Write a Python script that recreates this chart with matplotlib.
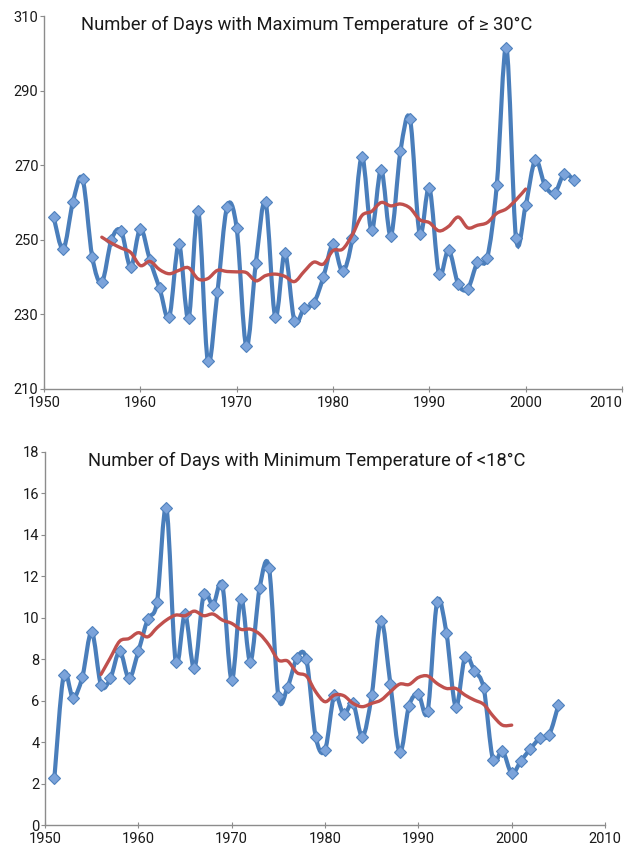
import numpy as np
import matplotlib
matplotlib.use("Agg")
import matplotlib.pyplot as plt
from matplotlib.path import Path
from matplotlib.patches import PathPatch

plt.rcParams["font.family"] = ["Roboto", "DejaVu Sans"]

# ---- data ----
years = list(range(1951, 2006))
avg_years = list(range(1956, 2001))

tmax_days = [
    256.1, 247.5, 260.1, 266.3, 245.5, 238.6, 250.0, 252.4, 242.7, 253.0,
    244.5, 237.0, 229.3, 248.8, 228.9, 257.8, 217.6, 235.9, 258.8, 253.1,
    221.4, 243.9, 260.1, 229.3, 246.4, 228.2, 231.7, 233.0, 240.0, 248.8,
    241.5, 250.4, 272.3, 252.5, 268.8, 251.1, 273.7, 282.3, 251.5, 264.0,
    240.8, 247.3, 238.1, 236.9, 244.0, 245.1, 264.6, 301.5, 250.4, 259.2,
    271.4, 264.6, 262.5, 267.7, 266.0,
]
tmax_avg = [
    250.7, 249.1, 247.8, 246.6, 243.1, 244.2, 242.0, 240.9, 241.8, 242.5,
    239.5, 239.6, 241.8, 241.5, 241.4, 241.2, 239.0, 240.4, 240.8, 240.2,
    238.8, 241.5, 244.0, 243.5, 247.1, 247.5, 251.3, 256.5, 257.6, 260.0,
    259.1, 259.6, 258.5, 255.4, 254.6, 252.4, 253.6, 256.1, 253.2, 253.9,
    254.6, 257.1, 258.3, 260.7, 263.6,
]

tmin_days = [
    2.25, 7.23, 6.14, 7.15, 9.32, 6.75, 7.07, 8.39, 7.07, 8.39,
    9.92, 10.77, 15.31, 7.88, 10.16, 7.56, 11.13, 10.61, 11.58, 6.99,
    10.93, 7.88, 11.46, 12.41, 6.22, 6.67, 8.07, 7.99, 4.26, 3.62,
    6.27, 5.34, 5.87, 4.26, 6.27, 9.86, 6.80, 3.50, 5.76, 6.30,
    5.51, 10.74, 9.28, 5.71, 8.12, 7.44, 6.59, 3.14, 3.59, 2.49,
    3.10, 3.67, 4.18, 4.34, 5.79,
]
tmin_avg = [
    7.27, 8.07, 8.87, 9.00, 9.28, 9.08, 9.52, 9.89, 10.13, 10.10,
    10.32, 10.10, 10.18, 9.89, 9.73, 9.44, 9.45, 9.21, 8.68, 7.96,
    7.91, 7.35, 7.19, 6.43, 5.95, 6.27, 6.24, 5.87, 5.71, 5.87,
    6.03, 6.43, 6.80, 6.78, 7.12, 7.19, 6.83, 6.59, 6.59, 6.27,
    6.03, 5.82, 5.26, 4.82, 4.82,
]

BLUE = "#4A7EBB"
BLUE_FILL = "#7BA3DA"
RED = "#C0504D"
AXIS = "#8C8C8C"


def smooth_path(x, y):
    # excel-style smoothed line: catmull-rom as cubic bezier segments
    x = np.asarray(x, float)
    y = np.asarray(y, float)
    n = len(x)
    verts = [(x[0], y[0])]
    codes = [Path.MOVETO]
    for i in range(n - 1):
        a = i - 1 if i > 0 else i
        d = i + 2 if i + 2 < n else i + 1
        c1 = (x[i] + (x[i + 1] - x[a]) / 6, y[i] + (y[i + 1] - y[a]) / 6)
        c2 = (x[i + 1] - (x[d] - x[i]) / 6, y[i + 1] - (y[d] - y[i]) / 6)
        verts += [c1, c2, (x[i + 1], y[i + 1])]
        codes += [Path.CURVE4] * 3
    return Path(verts, codes)


def draw_panel(ax, vals, avg, ylim, ystep):
    ax.add_patch(PathPatch(smooth_path(years, vals), fill=False,
                           edgecolor=BLUE, lw=3, capstyle="round", zorder=2))
    ax.plot(years, vals, linestyle="none", marker="D", ms=6.5,
            mfc=BLUE_FILL, mec="#4F81BD", mew=0.8, zorder=3)
    ax.add_patch(PathPatch(smooth_path(avg_years, avg), fill=False,
                           edgecolor=RED, lw=2.4, capstyle="round", zorder=4))

    ax.set_xlim(1950, 2010)
    ax.set_ylim(*ylim)
    ax.set_xticks(range(1950, 2011, 10))
    ax.set_yticks(np.arange(ylim[0], ylim[1] + 0.1, ystep))
    for side in ("top", "right"):
        ax.spines[side].set_visible(False)
    for side in ("left", "bottom"):
        ax.spines[side].set_color(AXIS)
        ax.spines[side].set_linewidth(1.0)
    ax.tick_params(axis="both", colors=AXIS, labelcolor="#1a1a1a",
                   labelsize=10.5, length=3, width=0.8, direction="out", pad=1)
    ax.tick_params(axis="x", direction="inout", length=4, pad=3)


fig = plt.figure(figsize=(6.27, 8.48), dpi=100)

ax1 = fig.add_axes([0.0702, 0.5413, 0.9218, 0.4398])
draw_panel(ax1, tmax_days, tmax_avg, (210, 310), 20)
lbls = ax1.get_xticklabels()
lbls[-1].set_horizontalalignment("right")

ax2 = fig.add_axes([0.0718, 0.0271, 0.8932, 0.4399])
draw_panel(ax2, tmin_days, tmin_avg, (0, 18), 2)

fig.text(0.489, 0.965, "Number of Days with Maximum Temperature  of \u2265 30\u00b0C",
         ha="center", va="baseline", fontsize=13.2, color="#1a1a1a")
fig.text(0.490, 0.450, "Number of Days with Minimum Temperature of <18\u00b0C",
         ha="center", va="baseline", fontsize=13.2, color="#1a1a1a")

fig.savefig("out.png", dpi=100)
